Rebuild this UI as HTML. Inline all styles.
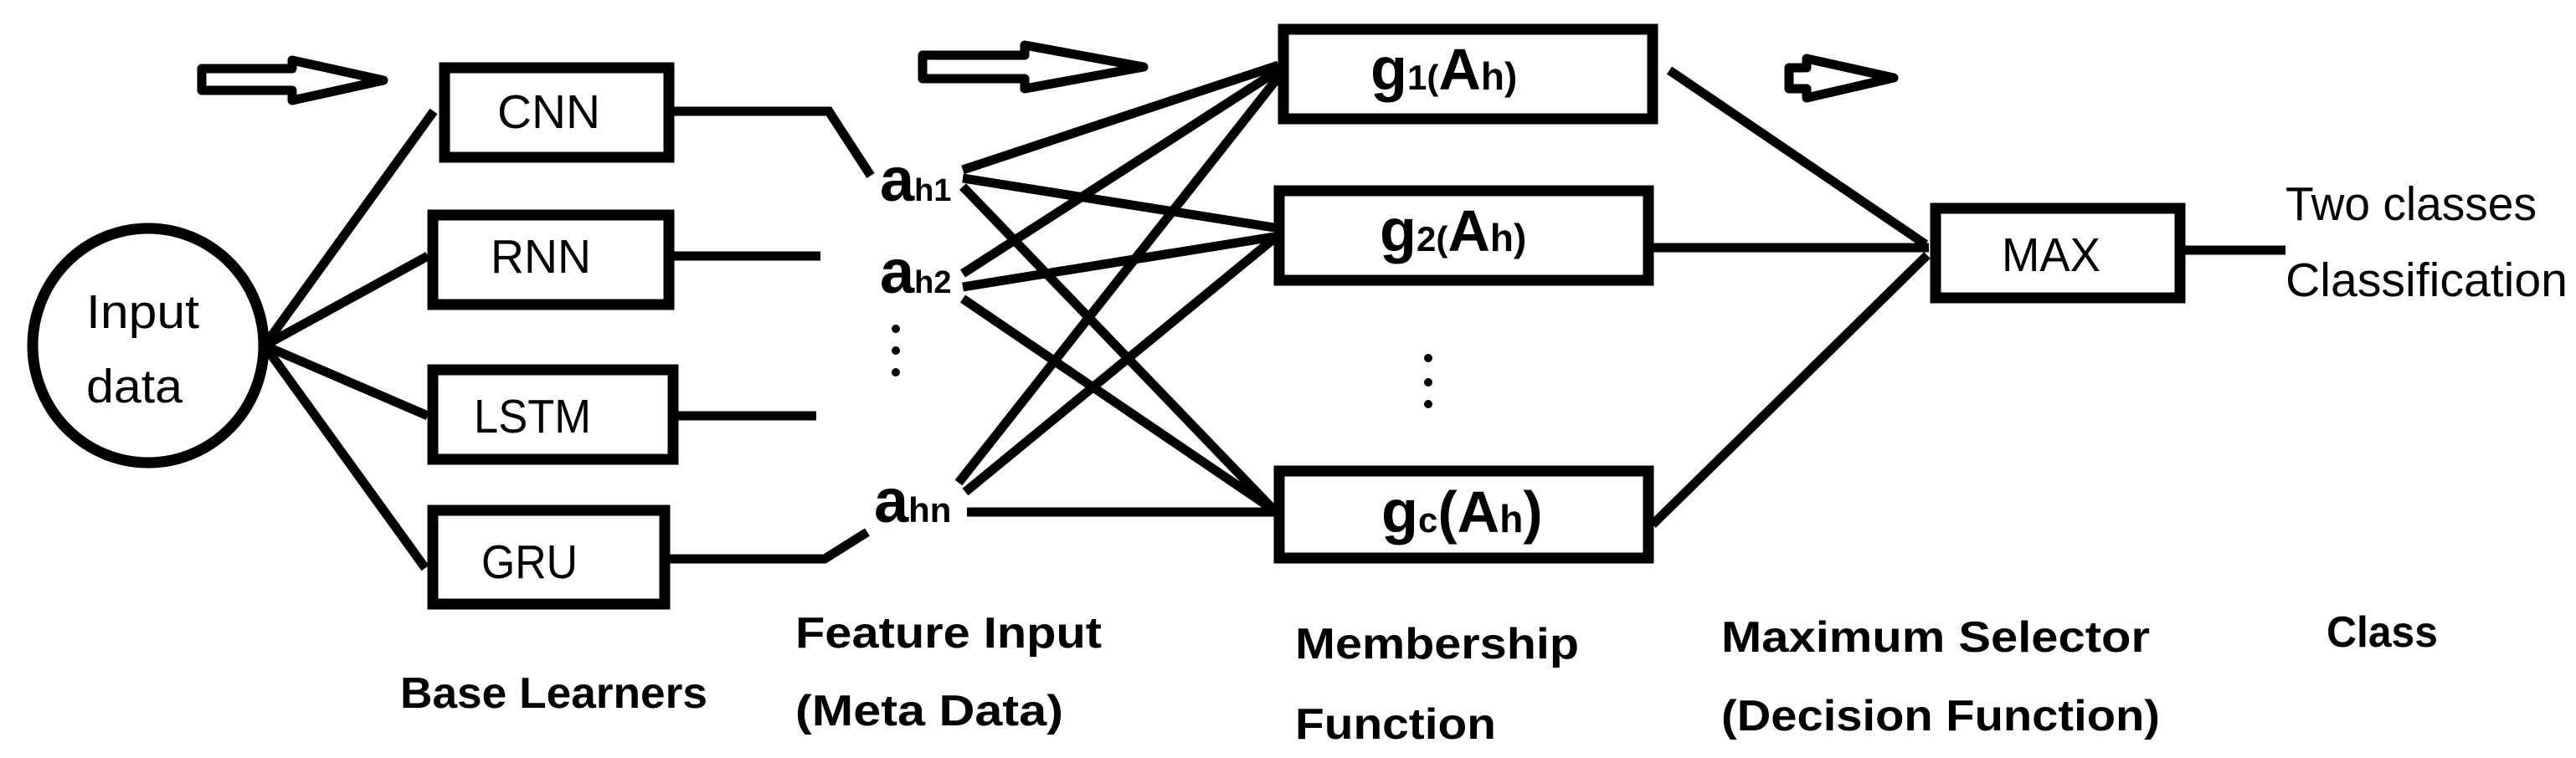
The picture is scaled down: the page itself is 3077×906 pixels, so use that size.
<!DOCTYPE html>
<html><head><meta charset="utf-8"><style>html,body{margin:0;padding:0;background:#fff}svg{display:block}</style></head>
<body>
<svg width="3077" height="906" viewBox="0 0 3077 906" xmlns="http://www.w3.org/2000/svg" font-family="'Liberation Sans', sans-serif">
<g fill="none" stroke="#000" stroke-width="13">
<ellipse cx="177" cy="413" rx="138" ry="140"/>
<rect x="531" y="81" width="268" height="107"/>
<rect x="517" y="257" width="282" height="107"/>
<rect x="517" y="442" width="287" height="107"/>
<rect x="517" y="610" width="277" height="112"/>
<rect x="1533" y="35" width="441" height="107"/>
<rect x="1528" y="228" width="441" height="107"/>
<rect x="1528" y="563" width="441" height="104"/>
<rect x="2312" y="249" width="292" height="107"/>
</g>
<g fill="none" stroke="#000" stroke-width="11" stroke-linecap="butt">
<line x1="316" y1="413" x2="518" y2="133"/>
<line x1="316" y1="413" x2="511" y2="306"/>
<line x1="316" y1="413" x2="511" y2="497"/>
<line x1="316" y1="413" x2="508" y2="679"/>
<polyline points="805,133 990,133 1040,210"/>
<line x1="805" y1="306" x2="980" y2="306"/>
<line x1="810" y1="497" x2="975" y2="497"/>
<polyline points="800,668 985,668 1036,636"/>
<line x1="1150" y1="203" x2="1527" y2="78"/>
<line x1="1150" y1="213" x2="1522" y2="272"/>
<line x1="1150" y1="223" x2="1522" y2="610"/>
<line x1="1150" y1="327" x2="1527" y2="84"/>
<line x1="1150" y1="343" x2="1522" y2="283"/>
<line x1="1150" y1="357" x2="1522" y2="610"/>
<line x1="1145" y1="577" x2="1527" y2="92"/>
<line x1="1153" y1="588" x2="1522" y2="285"/>
<line x1="1155" y1="612" x2="1527" y2="612"/>
<line x1="1994" y1="84" x2="2300" y2="292"/>
<line x1="1974" y1="296" x2="2304" y2="296"/>
<line x1="1974" y1="627" x2="2302" y2="305"/>
<line x1="2610" y1="299" x2="2730" y2="299"/>
</g>
<g fill="none" stroke="#000" stroke-width="11" stroke-linejoin="round">
<polygon points="241,82 349,82 349,72 458,96 349,120 349,108 241,108"/>
<polygon points="1102,66 1224,66 1224,54 1366,80 1224,106 1224,94 1102,94"/>
<polygon points="2137,81 2158,81 2158,70 2262,93 2158,117 2158,106 2137,106"/>
</g>
<g fill="#000">
<circle cx="1070" cy="393" r="5"/><circle cx="1070" cy="419" r="5"/><circle cx="1070" cy="445" r="5"/>
<circle cx="1706" cy="428" r="5"/><circle cx="1706" cy="457" r="5"/><circle cx="1706" cy="483" r="5"/>
</g>
<g font-size="57" fill="#000">
<text x="103" y="392" textLength="135" lengthAdjust="spacingAndGlyphs">Input</text>
<text x="103" y="481" textLength="115" lengthAdjust="spacingAndGlyphs">data</text>
<text x="594" y="153" textLength="123" lengthAdjust="spacingAndGlyphs">CNN</text>
<text x="586" y="326" textLength="120" lengthAdjust="spacingAndGlyphs">RNN</text>
<text x="566" y="517" textLength="140" lengthAdjust="spacingAndGlyphs">LSTM</text>
<text x="575" y="691" textLength="115" lengthAdjust="spacingAndGlyphs">GRU</text>
<text x="2391" y="324" textLength="118" lengthAdjust="spacingAndGlyphs">MAX</text>
<text x="2730" y="263" textLength="300" lengthAdjust="spacingAndGlyphs">Two classes</text>
<text x="2730" y="354" textLength="337" lengthAdjust="spacingAndGlyphs">Classification</text>
</g>
<g font-weight="bold" fill="#000">
<text x="1051" y="240"><tspan font-size="74">a</tspan><tspan font-size="38">h1</tspan></text>
<text x="1051" y="350"><tspan font-size="74">a</tspan><tspan font-size="38">h2</tspan></text>
<text x="1044" y="624"><tspan font-size="74">a</tspan><tspan font-size="42">hn</tspan></text>
<text x="1637" y="107"><tspan font-size="72">g</tspan><tspan font-size="42">1(</tspan><tspan font-size="70">A</tspan><tspan font-size="46">h)</tspan></text>
<text x="1648" y="300"><tspan font-size="72">g</tspan><tspan font-size="42">2(</tspan><tspan font-size="70">A</tspan><tspan font-size="46">h)</tspan></text>
<text x="1650" y="636"><tspan font-size="72">g</tspan><tspan font-size="42">c</tspan><tspan font-size="70">(A</tspan><tspan font-size="46">h</tspan><tspan font-size="70">)</tspan></text>
</g>
<g font-weight="bold" font-size="52" fill="#000">
<text x="478" y="846" textLength="367" lengthAdjust="spacingAndGlyphs">Base Learners</text>
<text x="950" y="774" textLength="366" lengthAdjust="spacingAndGlyphs">Feature Input</text>
<text x="950" y="867" textLength="320" lengthAdjust="spacingAndGlyphs">(Meta Data)</text>
<text x="1547" y="787" textLength="339" lengthAdjust="spacingAndGlyphs">Membership</text>
<text x="1547" y="883" textLength="240" lengthAdjust="spacingAndGlyphs">Function</text>
<text x="2056" y="779" textLength="512" lengthAdjust="spacingAndGlyphs">Maximum Selector</text>
<text x="2056" y="873" textLength="524" lengthAdjust="spacingAndGlyphs">(Decision Function)</text>
<text x="2779" y="773" textLength="133" lengthAdjust="spacingAndGlyphs">Class</text>
</g>
</svg>
</body></html>
